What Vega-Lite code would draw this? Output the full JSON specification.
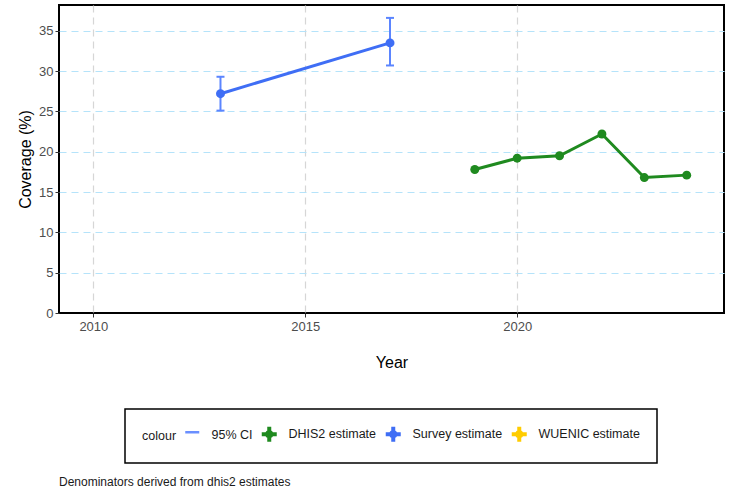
{
  "$schema": "https://vega.github.io/schema/vega-lite/v6.json",
  "width": 665,
  "height": 308,
  "autosize": "none",
  "padding": {"left": 59, "top": 5, "right": 5, "bottom": 181},
  "background": "white",
  "config": {
    "font": "Liberation Sans",
    "view": {"stroke": "black", "strokeWidth": 2},
    "axis": {"domain": false, "tickColor": "#333333", "tickSize": 4, "tickWidth": 1, "labelColor": "#4d4d4d", "labelFontSize": 13, "titleFontSize": 16, "titleFontWeight": "normal", "titleColor": "black", "gridWidth": 1.2}
  },
  "title": {"text": "Denominators derived from dhis2 estimates", "orient": "bottom", "anchor": "start", "frame": "group", "fontSize": 12, "fontWeight": "normal", "color": "#1a1a1a", "offset": 13},
  "datasets": {
    "est": [
      {"year": 2013, "value": 27.2, "series": "Survey estimate"},
      {"year": 2017, "value": 33.5, "series": "Survey estimate"},
      {"year": 2019, "value": 17.8, "series": "DHIS2 estimate"},
      {"year": 2020, "value": 19.2, "series": "DHIS2 estimate"},
      {"year": 2021, "value": 19.5, "series": "DHIS2 estimate"},
      {"year": 2022, "value": 22.2, "series": "DHIS2 estimate"},
      {"year": 2023, "value": 16.8, "series": "DHIS2 estimate"},
      {"year": 2024, "value": 17.1, "series": "DHIS2 estimate"}
    ],
    "ci": [
      {"year": 2013, "lo": 25.1, "hi": 29.3},
      {"year": 2017, "lo": 30.7, "hi": 36.6}
    ]
  },
  "layer": [
    {
      "data": {"name": "ci"},
      "mark": {"type": "rule", "color": "#5b85ff", "strokeWidth": 2},
      "encoding": {
        "x": {"field": "year", "type": "quantitative", "scale": {"domain": [2009.19, 2024.88], "nice": false, "zero": false},
          "axis": {"values": [2010, 2015, 2020], "format": "d", "grid": true, "gridColor": "#d6d6d6", "gridDash": [7, 5], "labelPadding": 3, "title": "Year", "titleBaseline": "middle", "titleY": 49}},
        "y": {"field": "lo", "type": "quantitative", "scale": {"domain": [0, 38.2], "nice": false},
          "axis": {"values": [0, 5, 10, 15, 20, 25, 30, 35], "grid": true, "gridColor": {"condition": {"test": "datum.value === 0", "value": "transparent"}, "value": "#b5e3fa"}, "gridDash": [7, 5], "labelPadding": 2, "title": "Coverage (%)", "titleX": -34, "titleY": 154, "titleBaseline": "middle", "titleAlign": "center", "titleAngle": 270}},
        "y2": {"field": "hi"}
      }
    },
    {
      "data": {"name": "ci"},
      "mark": {"type": "tick", "orient": "horizontal", "color": "#5b85ff", "size": 8, "thickness": 2, "opacity": 1},
      "encoding": {
        "x": {"field": "year", "type": "quantitative"},
        "y": {"field": "lo", "type": "quantitative"}
      }
    },
    {
      "data": {"name": "ci"},
      "mark": {"type": "tick", "orient": "horizontal", "color": "#5b85ff", "size": 8, "thickness": 2, "opacity": 1},
      "encoding": {
        "x": {"field": "year", "type": "quantitative"},
        "y": {"field": "hi", "type": "quantitative"}
      }
    },
    {
      "data": {"name": "est"},
      "mark": {"type": "line", "strokeWidth": 3},
      "encoding": {
        "x": {"field": "year", "type": "quantitative"},
        "y": {"field": "value", "type": "quantitative"},
        "color": {"field": "series", "type": "nominal",
          "scale": {"domain": ["95% CI", "DHIS2 estimate", "Survey estimate", "WUENIC estimate"], "range": ["#6a8fff", "#1f8a1f", "#3f6ef5", "#ffcc00"]}}
      }
    },
    {
      "data": {"name": "est"},
      "mark": {"type": "point", "filled": true, "size": 80, "opacity": 1},
      "encoding": {
        "x": {"field": "year", "type": "quantitative"},
        "y": {"field": "value", "type": "quantitative"},
        "color": {"field": "series", "type": "nominal"}
      }
    },
    {
      "data": {"name": "est"},
      "mark": {"type": "point", "filled": true, "opacity": 0},
      "encoding": {
        "x": {"field": "year", "type": "quantitative"},
        "y": {"field": "value", "type": "quantitative"},
        "color": {"field": "series", "type": "nominal",
          "legend": {"title": "colour", "orient": "none", "legendX": 66, "legendY": 404, "direction": "horizontal", "titleOrient": "left", "titleAnchor": "middle", "titleBaseline": "middle", "padding": 17, "strokeColor": "black", "symbolSize": 400, "labelFontSize": 12.5, "labelColor": "#1a1a1a", "titleFontSize": 12.5, "titleFontWeight": "normal", "titleColor": "#1a1a1a", "labelOffset": 13, "columnPadding": 8, "titlePadding": 9, "symbolOpacity": 1,
            "encode": {"legend": {"update": {"strokeWidth": {"value": 1.5}}}, "labels": {"update": {"dy": {"signal": "datum.value === '95% CI' ? 3 : 0"}}}, "symbols": {"update": {"fill": {"scale": "color", "field": "value"}, "stroke": {"scale": "color", "field": "value"}, "strokeWidth": {"signal": "datum.value === '95% CI' ? 2.5 : 0"}, "opacity": {"value": 1}}}}}},
        "shape": {"field": "series", "type": "nominal",
          "scale": {"domain": ["95% CI", "DHIS2 estimate", "Survey estimate", "WUENIC estimate"], "range": ["M0,-0.875M0,0.875M-0.7,0H0.7", "M0,-1M0,1M-0.75,-0.2H0.75V0.2H-0.75ZM-0.2,-0.75H0.2V0.75H-0.2ZM-0.42,0A0.42,0.42 0 1,1 0.42,0A0.42,0.42 0 1,1 -0.42,0Z", "M0,-1M0,1M-0.75,-0.2H0.75V0.2H-0.75ZM-0.2,-0.75H0.2V0.75H-0.2ZM-0.42,0A0.42,0.42 0 1,1 0.42,0A0.42,0.42 0 1,1 -0.42,0Z", "M0,-1M0,1M-0.75,-0.2H0.75V0.2H-0.75ZM-0.2,-0.75H0.2V0.75H-0.2ZM-0.42,0A0.42,0.42 0 1,1 0.42,0A0.42,0.42 0 1,1 -0.42,0Z"]},
          "legend": {"title": "colour", "orient": "none", "legendX": 66, "legendY": 404, "direction": "horizontal", "titleOrient": "left", "titleAnchor": "middle", "titleBaseline": "middle", "padding": 17, "strokeColor": "black", "symbolSize": 400, "labelFontSize": 12.5, "labelColor": "#1a1a1a", "titleFontSize": 12.5, "titleFontWeight": "normal", "titleColor": "#1a1a1a", "labelOffset": 13, "columnPadding": 8, "titlePadding": 9, "symbolOpacity": 1,
            "encode": {"legend": {"update": {"strokeWidth": {"value": 1.5}}}, "labels": {"update": {"dy": {"signal": "datum.value === '95% CI' ? 3 : 0"}}}, "symbols": {"update": {"fill": {"scale": "color", "field": "value"}, "stroke": {"scale": "color", "field": "value"}, "strokeWidth": {"signal": "datum.value === '95% CI' ? 2.5 : 0"}, "opacity": {"value": 1}}}}}}
      }
    }
  ]
}
